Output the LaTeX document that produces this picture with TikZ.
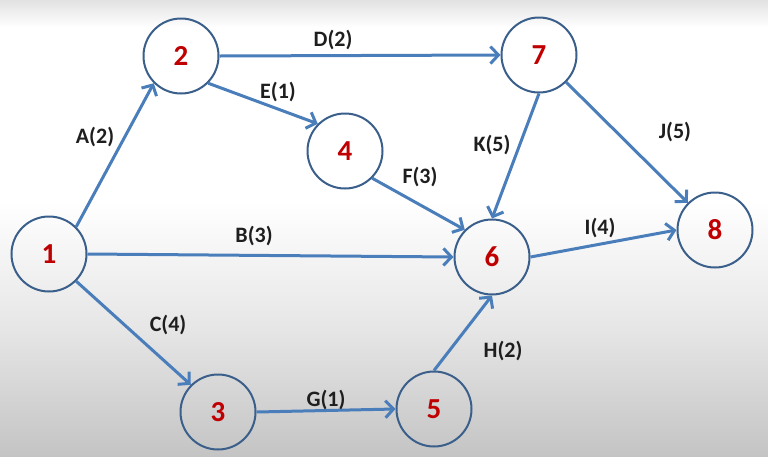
\documentclass[tikz,border=0pt]{standalone}
\usepackage{fontspec}
\setmainfont{Carlito}
\usetikzlibrary{arrows.meta}
\definecolor{edgeblue}{HTML}{4A7EBB}
\definecolor{ringblue}{HTML}{3A5F8B}
\definecolor{numred}{HTML}{C00000}
\definecolor{labelgray}{HTML}{1E1E1E}
\definecolor{bgtop}{HTML}{E2E2E2}
\definecolor{bgbot}{HTML}{C4C4C4}
\definecolor{bgmid}{HTML}{E6E6E6}
\pgfdeclareverticalshading{bgshade}{100bp}{color(0bp)=(bgbot); color(25bp)=(bgbot); color(39bp)=(bgmid); color(53bp)=(white); color(72bp)=(white); color(75bp)=(bgtop); color(100bp)=(bgtop)}
\tikzset{
  evnode/.style={circle, draw=ringblue, line width=2pt, minimum size=75pt, inner sep=0pt,
    text=numred, font=\bfseries\fontsize{29}{29}\selectfont},
  act/.style={draw=edgeblue, line width=3pt, -{Straight Barb[length=8pt,width=17pt]}},
  actlabel/.style={text=labelgray, font=\bfseries\fontsize{22}{22}\selectfont, inner sep=0pt}
}
\begin{document}
\begin{tikzpicture}[x=1pt,y=-1pt]
\useasboundingbox (0,0) rectangle (768,456);
\shade[shading=bgshade] (0,0) rectangle (768,456);
% events
\node[evnode] (n1) at (49,254) {1};
\node[evnode] (n2) at (181,56) {2};
\node[evnode] (n3) at (218,412) {3};
\node[evnode] (n4) at (345,151) {4};
\node[evnode] (n5) at (434,409) {5};
\node[evnode] (n6) at (492,257) {6};
\node[evnode] (n7) at (539,55) {7};
\node[evnode] (n8) at (715,230) {8};
% activities
\draw[act] (n1.45) -- (n2.225);
\draw[act] (n1.east) -- (n6.west);
\draw[act] (n1.-45) -- (n3.135);
\draw[act] (n2.east) -- (n7.west);
\draw[act] (n2.-45) -- (n4.135);
\draw[act] (n4.-45) -- (n6.135);
\draw[act] (n3.east) -- (n5.west);
\draw[act] (n5.north) -- (n6.south);
\draw[act] (n7.south) -- (n6.north);
\draw[act] (n7.-45) -- (n8.135);
\draw[act] (n6.east) -- (n8.west);
% labels
\node[actlabel] (la) at (95,137) {A(2)};
\node[actlabel] (ld) at (333,40) {D(2)};
\node[actlabel] (le) at (278,92) {E(1)};
\node[actlabel] (lb) at (254,236) {B(3)};
\node[actlabel] (lc) at (168,325) {C(4)};
\node[actlabel] (lg) at (326,400) {G(1)};
\node[actlabel] (lf) at (420,177) {F(3)};
\node[actlabel] (lk) at (492,145) {K(5)};
\node[actlabel] (lj) at (675,132) {J(5)};
\node[actlabel] (li) at (600,228) {I(4)};
\node[actlabel] (lh) at (503,351) {H(2)};
\end{tikzpicture}
\end{document}
